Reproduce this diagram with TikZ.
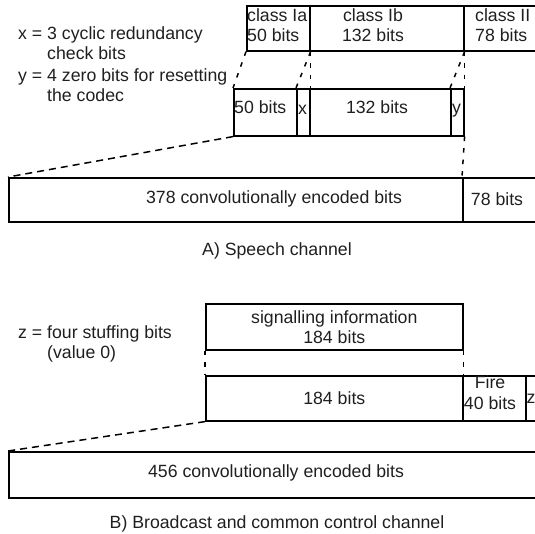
\documentclass[tikz,border=0pt]{standalone}
\usepackage{fontspec}
\setmainfont{Liberation Sans}
\begin{document}
\begin{tikzpicture}[x=1pt,y=-1pt,
  box/.style={draw=black, line width=1.6pt, inner sep=0pt, anchor=north west, font=\fontsize{17.7}{20}\selectfont, text=black!88, align=center},
  lbl/.style={inner sep=0pt, font=\fontsize{17.7}{20}\selectfont, text=black!88},
  dsh/.style={draw=black, line width=1.5pt, dash pattern=on 4.5pt off 7pt},
  dshl/.style={draw=black, line width=1.5pt, dash pattern=on 7pt off 5pt}]
\useasboundingbox (0,0) rectangle (535,534);
\clip (0,0) rectangle (535,534);

% ---------- A) speech channel ----------
\node[lbl, align=left, anchor=west] (notex) at (18,43) {x = 3 cyclic redundancy\\\phantom{x = }check bits};
\node[lbl, align=left, anchor=west] (notey) at (18,86.5) {y = 4 zero bits for resetting\\\phantom{y = }the codec};

\node[box, minimum width=63pt, minimum height=45pt] (ia) at (246,5) {};
\node[box, minimum width=154pt, minimum height=45pt] (ib) at (309,5) {};
\node[box, minimum width=90pt, minimum height=45pt] (cii) at (463,5) {};
\node[lbl, align=left, anchor=west] (tia) at (247,25.5) {class Ia\\50 bits};
\node[lbl, align=center] (tib) at (373,25.5) {class Ib\\132 bits};
\node[lbl, align=left, anchor=west] (tii) at (475,25.5) {class II\\78 bits};

\node[box, minimum width=63pt, minimum height=47pt] (r50) at (233,88) {};
\node[box, minimum width=13pt, minimum height=47pt] (rx) at (296,88) {};
\node[box, minimum width=141pt, minimum height=47pt] (r132) at (309,88) {};
\node[box, minimum width=13pt, minimum height=47pt] (ry) at (450,88) {};
\node[lbl, anchor=base west] (t50) at (234,114) {50 bits};
\node[lbl, anchor=base] (tx) at (302.5,115) {x};
\node[lbl, anchor=base] (t132) at (377,114) {132 bits};
\node[lbl, anchor=base] (ty) at (456.5,114) {y};

\draw[dsh] (ia.south west) -- (r50.north west);
\draw[dsh] (ia.south east) -- (rx.north west);
\draw[dsh] (ia.south east) -- (rx.north east);
\draw[dsh] (ib.south east) -- (ry.north west);
\draw[dsh] (ib.south east) -- (ry.north east);

\node[box, minimum width=454pt, minimum height=44pt] (a378) at (8,177) {};
\node[box, minimum width=90pt, minimum height=44pt] (a78) at (462,177) {};
\node[lbl] (t378) at (274,199) {378 convolutionally encoded bits};
\node[lbl] (t78) at (497,199) {78 bits};

\draw[dshl] (r50.south west) -- (a378.north west);
\draw[dsh] (ry.south east) -- (a78.north west);

\node[lbl] (capA) at (277,251) {A) Speech channel};

% ---------- B) broadcast and common control channel ----------
\node[lbl, align=left, anchor=west] (notez) at (18,344) {z = four stuffing bits\\\phantom{z = }(value 0)};

\node[box, minimum width=257pt, minimum height=46pt] (sig) at (205,303) {signalling information\\184 bits};

\node[box, minimum width=257pt, minimum height=45pt] (b184) at (205,375) {184 bits};
\node[box, minimum width=63pt, minimum height=45pt] (fire) at (462,375) {};
\node[box, minimum width=30pt, minimum height=45pt] (bz) at (525,375) {};
\node[lbl, align=center, font=\fontsize{17.7}{21}\selectfont] (tfire) at (490,393) {Fire\\40 bits};
\node[lbl] (tz) at (531,399) {z};

\draw[dsh] (sig.south west) -- (b184.north west);
\draw[dsh] (sig.south east) -- (b184.north east);

\node[box, minimum width=540pt, minimum height=46pt] (b456) at (8,451) {};
\node[lbl] (t456) at (276,473) {456 convolutionally encoded bits};

\draw[dshl] (b184.south west) -- (b456.north west);

\node[lbl] (capB) at (277,524) {B) Broadcast and common control channel};
\end{tikzpicture}
\end{document}
